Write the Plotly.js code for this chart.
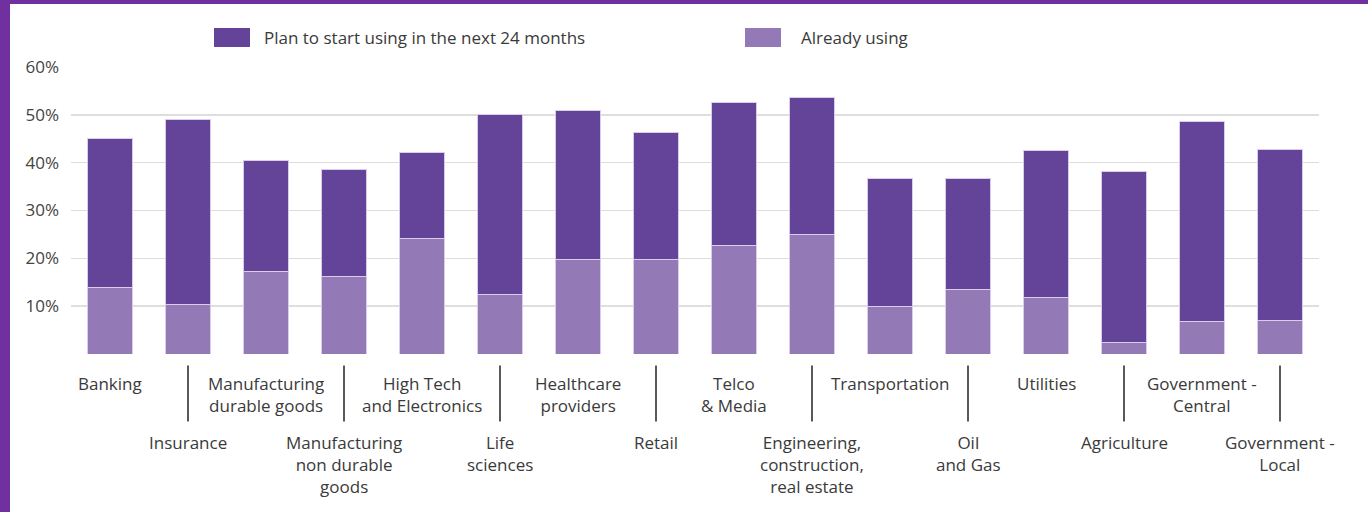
<!DOCTYPE html>
<html>
<head>
<meta charset="utf-8">
<script src="https://cdn.plot.ly/plotly-3.0.1.min.js"></script>
<style>
html,body{margin:0;padding:0;background:#fff;}
#wrap{position:relative;width:1368px;height:512px;overflow:hidden;}
#chart{position:absolute;left:0;top:0;width:1368px;height:512px;}
#bl{position:absolute;left:0;top:0;width:10px;height:512px;background:#7030a0;}
#bt{position:absolute;left:0;top:0;width:1368px;height:4px;background:#7030a0;}
</style>
</head>
<body>
<div id="wrap"><div id="chart"></div><div id="bl"></div><div id="bt"></div></div>
<script>
const categories = [
  "Banking", "Insurance", "Manufacturing<br>durable goods", "Manufacturing<br>non durable<br>goods",
  "High Tech<br>and Electronics", "Life<br>sciences", "Healthcare<br>providers", "Retail",
  "Telco<br>& Media", "Engineering,<br>construction,<br>real estate", "Transportation", "Oil<br>and Gas",
  "Utilities", "Agriculture", "Government -<br>Central", "Government -<br>Local"
];
const alreadyUsing = [14.0, 10.4, 17.3, 16.1, 24.2, 12.5, 19.8, 19.7, 22.6, 24.9, 10.0, 13.4, 11.9, 2.5, 6.7, 7.1];
const planToStart  = [31.0, 38.7, 23.2, 22.4, 18.0, 37.5, 31.2, 26.7, 29.9, 28.8, 26.6, 23.2, 30.7, 35.7, 42.0, 35.7];
const seriesNames = ["Plan to start using in the next 24 months", "Already using"];
const yTickVals = [10, 20, 30, 40, 50, 60];
const yTickText = ["10%", "20%", "30%", "40%", "50%", "60%"];

const darkPurple = "#634499";
const lightPurple = "#9379b6";
const edge = "#d9cde8";
const xIdx = categories.map((c, i) => i);

const traces = [
  {type: "bar", x: xIdx, y: alreadyUsing, name: seriesNames[1],
   marker: {color: lightPurple, line: {color: edge, width: 1}}, hoverinfo: "y"},
  {type: "bar", x: xIdx, y: planToStart, name: seriesNames[0],
   marker: {color: darkPurple, line: {color: edge, width: 1}}, hoverinfo: "y"}
];

const font = "'Open Sans', sans-serif";
const txtColor = "#3a3a3a";
const annotations = [];
const shapes = [];
categories.forEach((c, i) => {
  const lower = i % 2 === 1;
  annotations.push({
    x: i, xref: "x", y: lower ? -0.262 : -0.057, yref: "paper",
    yanchor: "top", xanchor: "center", showarrow: false, align: "center",
    text: c, font: {family: font, size: 17, color: txtColor}
  });
  if (lower) {
    shapes.push({type: "line", xref: "x", yref: "paper", x0: i, x1: i,
      y0: -0.04, y1: -0.235, line: {color: "#222", width: 1.5}});
  }
});

// legend (custom, to mimic large swatches)
const legendItems = [
  {name: seriesNames[0], color: darkPurple, sx: 214, tx: 262},
  {name: seriesNames[1], color: lightPurple, sx: 745, tx: 799}
];
const L = 71, W = 1248, T = 67, H = 287;
const px = v => (v - L) / W;
const py = v => 1 - (v - T) / H;
legendItems.forEach(it => {
  shapes.push({type: "rect", xref: "paper", yref: "paper",
    x0: px(it.sx), x1: px(it.sx + 36), y0: py(47), y1: py(28),
    fillcolor: it.color, line: {width: 0}});
  annotations.push({xref: "paper", yref: "paper", x: px(it.tx), y: py(37.5),
    xanchor: "left", yanchor: "middle", showarrow: false, text: it.name,
    font: {family: font, size: 17, color: txtColor}});
});

const layout = {
  width: 1368, height: 512,
  margin: {l: L, r: 1368 - L - W, t: T, b: 512 - T - H, pad: 0},
  paper_bgcolor: "#fff", plot_bgcolor: "#fff",
  barmode: "stack", bargap: 0.435,
  showlegend: false,
  xaxis: {range: [-0.5, 15.5], showticklabels: false, showgrid: false, zeroline: false,
          ticks: "", showline: false, fixedrange: true},
  yaxis: {range: [0, 60], tickvals: yTickVals, ticktext: yTickText,
          showgrid: true, gridcolor: "#dedede", gridwidth: 1.5, zeroline: false,
          ticks: "", ticklabelstandoff: 11, showline: false,
          tickfont: {family: font, size: 17, color: "#444"}},
  annotations: annotations,
  shapes: shapes
};
Plotly.newPlot("chart", traces, layout, {displayModeBar: false, staticPlot: true});
</script>
</body>
</html>
